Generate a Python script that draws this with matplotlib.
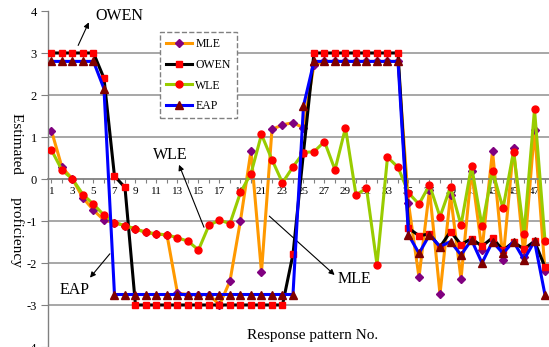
import matplotlib
matplotlib.use("Agg")
import matplotlib.pyplot as plt

plt.rcParams['font.family'] = ['Liberation Serif', 'DejaVu Serif']
plt.rcParams['axes.unicode_minus'] = False

# response patterns 1..48
patterns = list(range(1, 49))

mle = [1.15, 0.28, 0.0, -0.45, -0.74, -0.98, -1.04, -1.11, -1.19, -1.27,
       -1.31, -1.33, -2.72, -2.75, -2.75, -2.75, -3.0, -2.43, -0.99, 0.67,
       -2.22, 1.18, 1.29, 1.34, 1.22, 2.72, 2.8, 2.8, 2.8, 2.8,
       2.8, 2.8, 2.8, 2.8, -0.58, -2.34, -0.26, -2.74, -0.38, -2.38,
       0.2, -1.7, 0.67, -1.93, 0.75, -1.85, 1.17, -2.2]

owen = [3.0, 3.0, 3.0, 3.0, 3.0, 2.4, 0.07, -0.2, -3.0, -3.0,
        -3.0, -3.0, -3.0, -3.0, -3.0, -3.0, -3.0, -3.0, -3.0, -3.0,
        -3.0, -3.0, -3.0, -1.79, 0.63, 3.0, 3.0, 3.0, 3.0, 3.0,
        3.0, 3.0, 3.0, 3.0, -1.17, -1.35, -1.31, -1.62, -1.25, -1.56,
        -1.42, -1.6, -1.4, -1.7, -1.5, -1.67, -1.48, -2.1]

wle = [0.69, 0.21, 0.0, -0.37, -0.6, -0.86, -1.04, -1.11, -1.19, -1.27,
       -1.31, -1.33, -1.4, -1.48, -1.69, -1.1, -0.98, -1.06, -0.32, 0.13,
       1.06, 0.46, -0.09, 0.29, 0.63, 0.65, 0.89, 0.22, 1.22, -0.38,
       -0.22, -2.04, 0.52, 0.28, -0.33, -0.6, -0.14, -0.9, -0.19, -1.1,
       0.31, -1.12, 0.19, -0.7, 0.65, -1.3, 1.66, -1.47]

eap = [2.8, 2.8, 2.8, 2.8, 2.8, 2.15, -2.75, -2.75, -2.75, -2.75,
       -2.75, -2.75, -2.75, -2.75, -2.75, -2.75, -2.75, -2.75, -2.75, -2.75,
       -2.75, -2.75, -2.75, -2.75, 1.74, 2.8, 2.8, 2.8, 2.8, 2.8,
       2.8, 2.8, 2.8, 2.8, -1.33, -1.77, -1.33, -1.61, -1.49, -1.81,
       -1.45, -2.0, -1.49, -1.77, -1.49, -1.92, -1.48, -2.76]

fig = plt.figure(figsize=(5.49, 3.47), dpi=100)
ax = fig.add_axes([48 / 549, 0.0, 501 / 549, 336 / 347])

# horizontal gridlines
for g in [-3, -2, -1, 1, 2, 3]:
    ax.axhline(g, color='#a0a0a0', lw=1.3, zorder=0)

lw = 2.2
ax.plot(patterns, mle, color='#ff9900', lw=lw, marker='D', ms=4.2,
        mfc='#800080', mec='#800080', label='MLE', zorder=2)
ax.plot(patterns, owen, color='black', lw=lw, marker='s', ms=5,
        mfc='#ff0000', mec='#ff0000', label='OWEN', zorder=3)
ax.plot(patterns, wle, color='#99cc00', lw=lw, marker='o', ms=5,
        mfc='#ff0000', mec='#ff0000', label='WLE', zorder=4)
ax.plot(patterns, eap, color='#0000ff', lw=lw, marker='^', ms=5.5,
        mfc='#800000', mec='#800000', label='EAP', zorder=5)

ax.set_xlim(0.67, 48.38)
ax.set_ylim(-4, 4)

# axes styling
for s in ['top', 'right']:
    ax.spines[s].set_visible(False)
ax.spines['bottom'].set_position(('data', 0))
ax.spines['bottom'].set_color('#808080')
ax.spines['left'].set_color('#808080')
ax.spines['bottom'].set_linewidth(1.3)
ax.spines['left'].set_linewidth(1.0)

ax.set_xticks(patterns)
ax.set_xticklabels([str(p) if p % 2 == 1 else '' for p in patterns])
ax.set_yticks(range(-4, 5))
ax.tick_params(axis='x', direction='out', length=3, color='#808080',
               labelsize=8, pad=3)
ax.tick_params(axis='y', direction='out', length=5, color='#808080',
               labelsize=9, pad=3)

# axis titles
fig.text(17 / 549, 1 - 190 / 347, 'Estimated      proficiency', rotation=270,
         ha='center', va='center', fontsize=11)
fig.text(313 / 549, 1 - 335 / 347, 'Response pattern No.', ha='center',
         va='center', fontsize=11)

# legend
leg = ax.legend(loc='upper left', bbox_to_anchor=(0.2236, 0.9375),
                borderaxespad=0, fontsize=8.5, handlelength=2.2,
                labelspacing=0.75, handletextpad=0.3, fancybox=False,
                framealpha=1, borderpad=0.5)
leg.get_frame().set_edgecolor('#808080')
leg.get_frame().set_linestyle('--')
leg.get_frame().set_linewidth(1.0)
leg.set_zorder(10)

# callout labels
arrow = dict(arrowstyle='-|>', color='black', lw=0.8, mutation_scale=8)
ax.text(5.14, 3.88, 'OWEN', ha='left', va='center', fontsize=11.5)
ax.annotate('', xy=(4.67, 3.79), xytext=(3.43, 3.12), arrowprops=arrow)
ax.text(12.29, 0.57, 'WLE', ha='center', va='center', fontsize=11.5)
ax.annotate('', xy=(13.05, 0.40), xytext=(15.62, -1.21), arrowprops=arrow)
ax.text(3.24, -2.64, 'EAP', ha='center', va='center', fontsize=11.5)
ax.annotate('', xy=(4.5, -2.4), xytext=(6.73, -1.73), arrowprops=arrow)
ax.text(29.9, -2.38, 'MLE', ha='center', va='center', fontsize=11.5)
ax.annotate('', xy=(28.16, -2.33), xytext=(21.55, -0.84), arrowprops=arrow)

fig.savefig('out.png', dpi=100)
